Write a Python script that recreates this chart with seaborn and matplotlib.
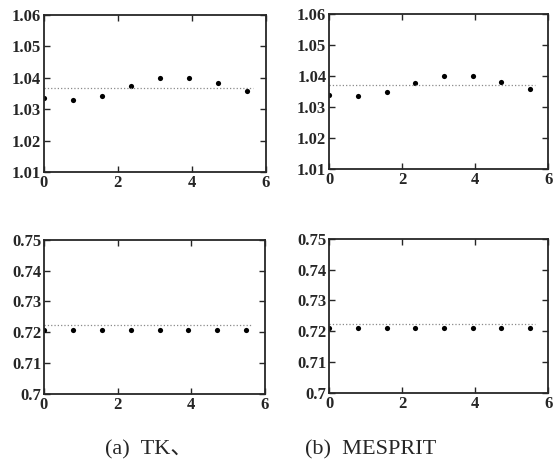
import seaborn as sns
import matplotlib.pyplot as plt
from matplotlib.ticker import FormatStrFormatter, FuncFormatter

# sample positions (multiples of pi/4)
x_pos = [0.0, 0.785, 1.571, 2.356, 3.142, 3.927, 4.712, 5.498]

# estimated values, top row
tk_top = [1.0334, 1.0329, 1.0343, 1.0372, 1.0398, 1.0400, 1.0382, 1.0357]
mes_top = [1.0340, 1.0335, 1.0349, 1.0378, 1.0400, 1.0400, 1.0382, 1.0359]
# estimated values, bottom row
tk_bot = [0.7208, 0.7207, 0.7207, 0.7207, 0.7208, 0.7207, 0.7207, 0.7208]
mes_bot = [0.7211, 0.7211, 0.7210, 0.7212, 0.7212, 0.7211, 0.7211, 0.7212]

# true values (dotted reference lines)
true_top = [1.0367, 1.0370]
true_bot = [0.7225, 0.7224]
line_x = [0.0, 5.65]

x_ticks = [0, 2, 4, 6]
top_ticks = [1.01, 1.02, 1.03, 1.04, 1.05, 1.06]
bot_ticks = [0.70, 0.71, 0.72, 0.73, 0.74, 0.75]

captions = ['(a)  TK\u3001', '(b)  MESPRIT']

sns.set_style('ticks')
plt.rcParams['font.family'] = ['Liberation Serif', 'Noto Sans CJK SC']

fig = plt.figure(figsize=(5.56, 4.75), dpi=100)
boxes = [[0.079, 0.638, 0.399, 0.331], [0.592, 0.644, 0.394, 0.326],
         [0.079, 0.171, 0.397, 0.324], [0.592, 0.173, 0.394, 0.324]]
data = [tk_top, mes_top, tk_bot, mes_bot]
truth = [true_top[0], true_top[1], true_bot[0], true_bot[1]]

for i in range(4):
    ax = fig.add_axes(boxes[i])
    sns.lineplot(x=line_x, y=[truth[i]] * 2, ax=ax, color='#8a8a8a',
                 linestyle=':', linewidth=0.9)
    sns.scatterplot(x=x_pos, y=data[i], ax=ax, color='black', s=14,
                    edgecolor='black', linewidth=0)
    ax.set_xlim(0, 6)
    ax.set_xticks(x_ticks)
    if i < 2:
        ax.set_ylim(1.01, 1.06)
        ax.set_yticks(top_ticks)
        ax.yaxis.set_major_formatter(FormatStrFormatter('%.2f'))
    else:
        ax.set_ylim(0.70, 0.75)
        ax.set_yticks(bot_ticks)
        ax.yaxis.set_major_formatter(FuncFormatter(lambda v, p: ('%.2f' % v).rstrip('0')))
    ax.tick_params(direction='in', top=True, right=True, length=4, width=1,
                   labelsize=12, pad=2)
    for lab in ax.get_xticklabels() + ax.get_yticklabels():
        lab.set_fontweight('bold')
    for sp in ax.spines.values():
        sp.set_linewidth(1.3)
        sp.set_visible(True)

fig.text(0.189, 0.052, captions[0], ha='left', va='center', fontsize=16)
fig.text(0.549, 0.052, captions[1], ha='left', va='center', fontsize=16)

fig.savefig('out.png', dpi=100)
